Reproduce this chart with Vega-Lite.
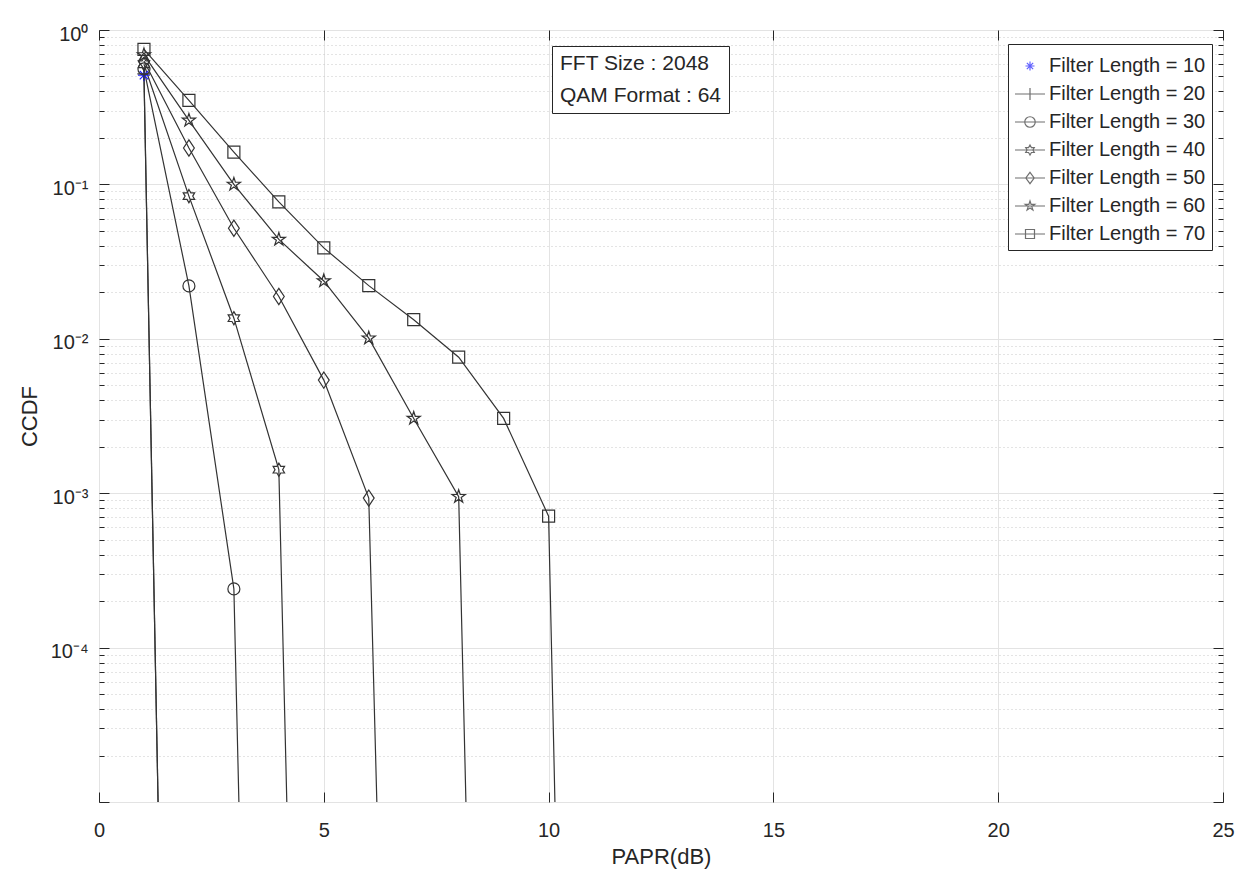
{
  "$schema": "https://vega.github.io/schema/vega-lite/v6.json",
  "width": 1124,
  "height": 772,
  "autosize": "none",
  "padding": {"left": 99, "top": 30, "right": 29, "bottom": 88},
  "background": "white",
  "config": {
    "view": {"stroke": "#262626", "strokeWidth": 1},
    "font": "Liberation Sans",
    "axis": {"domain": false, "labelFont": "Liberation Sans", "titleFont": "Liberation Sans", "labelColor": "#262626", "titleColor": "#262626", "tickColor": "#262626", "titleFontWeight": "normal", "labelFlush": false}
  },
  "datasets": {
    "ccdf": [
      {"series": "Filter Length = 10", "papr": 1, "ccdf": 0.51},
      {"series": "Filter Length = 10", "papr": 2, "ccdf": 5e-16},
      {"series": "Filter Length = 20", "papr": 1, "ccdf": 0.52},
      {"series": "Filter Length = 20", "papr": 2, "ccdf": 5e-16},
      {"series": "Filter Length = 30", "papr": 1, "ccdf": 0.56},
      {"series": "Filter Length = 30", "papr": 2, "ccdf": 0.022},
      {"series": "Filter Length = 30", "papr": 3, "ccdf": 0.00024},
      {"series": "Filter Length = 30", "papr": 4, "ccdf": 1e-16},
      {"series": "Filter Length = 40", "papr": 1, "ccdf": 0.6},
      {"series": "Filter Length = 40", "papr": 2, "ccdf": 0.084},
      {"series": "Filter Length = 40", "papr": 3, "ccdf": 0.0136},
      {"series": "Filter Length = 40", "papr": 4, "ccdf": 0.00142},
      {"series": "Filter Length = 40", "papr": 5, "ccdf": 1e-15},
      {"series": "Filter Length = 50", "papr": 1, "ccdf": 0.63},
      {"series": "Filter Length = 50", "papr": 2, "ccdf": 0.172},
      {"series": "Filter Length = 50", "papr": 3, "ccdf": 0.052},
      {"series": "Filter Length = 50", "papr": 4, "ccdf": 0.0188},
      {"series": "Filter Length = 50", "papr": 5, "ccdf": 0.0054},
      {"series": "Filter Length = 50", "papr": 6, "ccdf": 0.00093},
      {"series": "Filter Length = 50", "papr": 7, "ccdf": 1e-14},
      {"series": "Filter Length = 60", "papr": 1, "ccdf": 0.69},
      {"series": "Filter Length = 60", "papr": 2, "ccdf": 0.26},
      {"series": "Filter Length = 60", "papr": 3, "ccdf": 0.1},
      {"series": "Filter Length = 60", "papr": 4, "ccdf": 0.044},
      {"series": "Filter Length = 60", "papr": 5, "ccdf": 0.0237},
      {"series": "Filter Length = 60", "papr": 6, "ccdf": 0.0101},
      {"series": "Filter Length = 60", "papr": 7, "ccdf": 0.00305},
      {"series": "Filter Length = 60", "papr": 8, "ccdf": 0.00095},
      {"series": "Filter Length = 60", "papr": 9, "ccdf": 5e-16},
      {"series": "Filter Length = 70", "papr": 1, "ccdf": 0.75},
      {"series": "Filter Length = 70", "papr": 2, "ccdf": 0.35},
      {"series": "Filter Length = 70", "papr": 3, "ccdf": 0.162},
      {"series": "Filter Length = 70", "papr": 4, "ccdf": 0.077},
      {"series": "Filter Length = 70", "papr": 5, "ccdf": 0.0388},
      {"series": "Filter Length = 70", "papr": 6, "ccdf": 0.0221},
      {"series": "Filter Length = 70", "papr": 7, "ccdf": 0.0133},
      {"series": "Filter Length = 70", "papr": 8, "ccdf": 0.0076},
      {"series": "Filter Length = 70", "papr": 9, "ccdf": 0.00305},
      {"series": "Filter Length = 70", "papr": 10, "ccdf": 0.00071},
      {"series": "Filter Length = 70", "papr": 11, "ccdf": 5e-17}
    ],
    "notes": [
      {"note": "FFT Size : 2048"},
      {"note": "QAM Format : 64"}
    ]
  },
  "resolve": {
    "scale": {"shape": "independent", "stroke": "independent"},
    "axis": {"x": "independent", "y": "independent"}
  },
  "layer": [
    {
      "data": {"name": "ccdf"},
      "mark": {"type": "line", "clip": true, "color": "#333333", "strokeWidth": 1.2},
      "encoding": {
        "x": {
          "field": "papr", "type": "quantitative",
          "scale": {"domain": [0, 25], "nice": false, "zero": false},
          "axis": {
            "orient": "bottom", "values": [0, 5, 10, 15, 20, 25], "title": "PAPR(dB)",
            "grid": true, "gridColor": "#e3e3e3", "gridWidth": 1,
            "tickSize": -10, "labelFontSize": 20, "labelPadding": 28, "titleFontSize": 22, "titlePadding": 6
          }
        },
        "y": {
          "field": "ccdf", "type": "quantitative",
          "scale": {"type": "log", "domain": [0.00001, 1], "nice": false},
          "axis": {
            "orient": "left", "title": "CCDF", "titleFontSize": 22, "titlePadding": 9,
            "values": [0.00001, 0.00002, 0.00003, 0.00004, 0.00005, 0.00006, 0.00007, 0.00008, 0.00009,
                       0.0001, 0.0002, 0.0003, 0.0004, 0.0005, 0.0006, 0.0007, 0.0008, 0.0009,
                       0.001, 0.002, 0.003, 0.004, 0.005, 0.006, 0.007, 0.008, 0.009,
                       0.01, 0.02, 0.03, 0.04, 0.05, 0.06, 0.07, 0.08, 0.09,
                       0.1, 0.2, 0.3, 0.4, 0.5, 0.6, 0.7, 0.8, 0.9, 1],
            "labelExpr": "abs(log(datum.value)/LN10 - round(log(datum.value)/LN10)) < 0.001 && round(log(datum.value)/LN10) > -5 ? '10' + ['⁰','⁻¹','⁻²','⁻³','⁻⁴'][-round(log(datum.value)/LN10)] : ''",
            "labelOverlap": false, "labelFontSize": 20, "labelPadding": 21, "labelOffset": 4,
            "grid": true,
            "gridColor": {"condition": {"test": "abs(log(datum.value)/LN10 - round(log(datum.value)/LN10)) < 0.001", "value": "#e3e3e3"}, "value": "#c8c8c8"},
            "gridDash": {"condition": {"test": "abs(log(datum.value)/LN10 - round(log(datum.value)/LN10)) < 0.001", "value": []}, "value": [1, 3]},
            "tickSize": {"condition": {"test": "abs(log(datum.value)/LN10 - round(log(datum.value)/LN10)) < 0.001", "value": -10}, "value": -5}
          }
        },
        "detail": {"field": "series", "type": "nominal"}
      }
    },
    {
      "data": {"name": "ccdf"},
      "transform": [{"filter": "datum.ccdf > 1e-6"}],
      "mark": {"type": "point", "clip": true, "filled": false, "size": 144, "strokeWidth": 1.2, "opacity": 1},
      "encoding": {
        "x": {
          "field": "papr", "type": "quantitative",
          "axis": {"orient": "top", "values": [0, 5, 10, 15, 20, 25], "labels": false, "grid": false, "title": null, "tickSize": -10}
        },
        "y": {
          "field": "ccdf", "type": "quantitative",
          "axis": {
            "orient": "right", "labels": false, "grid": false, "title": null,
            "values": [0.00001, 0.00002, 0.00003, 0.00004, 0.00005, 0.00006, 0.00007, 0.00008, 0.00009,
                       0.0001, 0.0002, 0.0003, 0.0004, 0.0005, 0.0006, 0.0007, 0.0008, 0.0009,
                       0.001, 0.002, 0.003, 0.004, 0.005, 0.006, 0.007, 0.008, 0.009,
                       0.01, 0.02, 0.03, 0.04, 0.05, 0.06, 0.07, 0.08, 0.09,
                       0.1, 0.2, 0.3, 0.4, 0.5, 0.6, 0.7, 0.8, 0.9, 1],
            "tickSize": {"condition": {"test": "abs(log(datum.value)/LN10 - round(log(datum.value)/LN10)) < 0.001", "value": -10}, "value": -5}
          }
        },
        "shape": {
          "field": "series", "type": "nominal", "legend": null,
          "scale": {
            "domain": ["Filter Length = 10", "Filter Length = 20", "Filter Length = 30", "Filter Length = 40", "Filter Length = 50", "Filter Length = 60", "Filter Length = 70"],
            "range": [
              "M-1,0L1,0M0,-1L0,1M-0.7,-0.7L0.7,0.7M-0.7,0.7L0.7,-0.7",
              "M-1.1,0L1.1,0M0,-1.1L0,1.1",
              "M-1,0A1,1,0,1,1,1,0A1,1,0,1,1,-1,0Z",
              "M0,-1.1L0.3175,-0.55L0.953,-0.55L0.635,0L0.953,0.55L0.3175,0.55L0,1.1L-0.3175,0.55L-0.953,0.55L-0.635,0L-0.953,-0.55L-0.3175,-0.55Z",
              "M0,-1.35L0.9,0L0,1.35L-0.9,0Z",
              "M0,-1.15L0.258,-0.355L1.094,-0.355L0.417,0.136L0.676,0.93L0,0.439L-0.676,0.93L-0.417,0.136L-1.094,-0.355L-0.258,-0.355Z",
              "M-1,-1L1,-1L1,1L-1,1Z"
            ]
          }
        },
        "stroke": {
          "condition": {"test": "datum.series === 'Filter Length = 10'", "value": "#1f1fff"},
          "value": "#333333"
        }
      }
    },
    {
      "data": {"name": "ccdf"},
      "transform": [{"filter": "false"}],
      "mark": {"type": "point", "filled": false, "strokeWidth": 1.2},
      "encoding": {
        "x": {"field": "papr", "type": "quantitative", "axis": null},
        "y": {"field": "ccdf", "type": "quantitative", "axis": null},
        "shape": {
          "field": "series", "type": "nominal",
          "scale": {
            "domain": ["Filter Length = 10", "Filter Length = 20", "Filter Length = 30", "Filter Length = 40", "Filter Length = 50", "Filter Length = 60", "Filter Length = 70"],
            "range": [
              "M-0.3,0L0.3,0M0,-0.3L0,0.3M-0.21,-0.21L0.21,0.21M-0.21,0.21L0.21,-0.21",
              "M-1,0L1,0M0,-0.4L0,0.4",
              "M-1,0L1,0M-0.35,0A0.35,0.35,0,1,1,0.35,0A0.35,0.35,0,1,1,-0.35,0Z",
              "M-1,0L1,0M0,-0.33L0.095,-0.165L0.286,-0.165L0.19,0L0.286,0.165L0.095,0.165L0,0.33L-0.095,0.165L-0.286,0.165L-0.19,0L-0.286,-0.165L-0.095,-0.165Z",
              "M-1,0L1,0M0,-0.38L0.28,0L0,0.38L-0.28,0Z",
              "M-1,0L1,0M0,-0.33L0.074,-0.102L0.314,-0.102L0.12,0.039L0.194,0.267L0,0.126L-0.194,0.267L-0.12,0.039L-0.314,-0.102L-0.074,-0.102Z",
              "M-1,0L1,0M-0.3,-0.3L0.3,-0.3L0.3,0.3L-0.3,0.3Z"
            ]
          },
          "legend": {
            "title": null, "orient": "none", "legendX": 909, "legendY": 14,
            "fillColor": "white", "strokeColor": "#262626", "padding": 6,
            "labelFontSize": 20, "labelFont": "Liberation Sans", "labelColor": "#262626",
            "rowPadding": 2, "symbolSize": 900, "labelOffset": 3, "symbolStrokeWidth": 1.2, "labelLimit": 400
          }
        },
        "stroke": {
          "field": "series", "type": "nominal",
          "scale": {
            "domain": ["Filter Length = 10", "Filter Length = 20", "Filter Length = 30", "Filter Length = 40", "Filter Length = 50", "Filter Length = 60", "Filter Length = 70"],
            "range": ["#1f1fff", "#333333", "#333333", "#333333", "#333333", "#333333", "#333333"]
          },
          "legend": {
            "title": null, "orient": "none", "legendX": 909, "legendY": 14,
            "fillColor": "white", "strokeColor": "#262626", "padding": 6,
            "labelFontSize": 20, "labelFont": "Liberation Sans", "labelColor": "#262626",
            "rowPadding": 2, "symbolSize": 900, "labelOffset": 3, "symbolStrokeWidth": 1.2, "labelLimit": 400
          }
        }
      }
    },
    {
      "data": {"name": "notes"},
      "transform": [{"filter": "false"}],
      "mark": {"type": "point", "filled": true},
      "encoding": {
        "fill": {
          "field": "note", "type": "nominal",
          "scale": {"domain": ["FFT Size : 2048", "QAM Format : 64"], "range": ["white", "white"]},
          "legend": {
            "title": null, "orient": "none", "legendX": 453, "legendY": 16,
            "fillColor": "white", "strokeColor": "#262626", "padding": 7,
            "labelFontSize": 21, "labelFont": "Liberation Sans", "labelColor": "#262626",
            "rowPadding": 10, "symbolSize": 0, "symbolStrokeWidth": 0, "labelOffset": -20, "labelLimit": 400
          }
        }
      }
    }
  ]
}
